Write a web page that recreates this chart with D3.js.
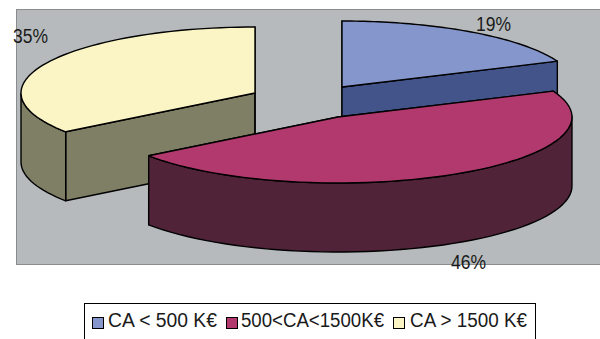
<!DOCTYPE html>
<html><head><meta charset="utf-8">
<script src="https://cdn.jsdelivr.net/npm/d3@7"></script>
<style>html,body{margin:0;padding:0;background:#fff;overflow:hidden}svg{display:block}text{font-family:"Liberation Sans",Arial,sans-serif;fill:#1a1a1a}</style>
</head><body><svg id="c" width="600" height="339"></svg>
<script>
const categories = ["CA < 500 K€", "500<CA<1500K€", "CA > 1500 K€"];
const shares = [18.6, 46.4, 35];
const labels = ["19%", "46%", "35%"];
const topColors = ["#8496cc", "#b2396e", "#fbf4c4"];
const wallColors = ["#42548a", "#512338", "#7f7f66"];
const apexes = [[342, 87], [338, 117], [255, 93]];
const labelPos = [[476, 31], [451, 269], [13, 43]];
const legendSwatchX = [92, 226, 393];
const legendTextX = [108, 241, 410];
const legendTextW = [109, 143, 117];

const svg = d3.select("#c");
const rx = 234, ry = 66, depth = 69;
const sx = d3.scaleLinear().domain([-1, 1]).range([-rx, rx]);
const sy = d3.scaleLinear().domain([-1, 1]).range([-ry, ry]);
const pie = d3.pie().sort(null).value(d => d)(shares);
const line = d3.line();
const rim = (a, c, dy = 0) => [c[0] + sx(Math.sin(a)), c[1] + sy(-Math.cos(a)) + dy];
const samples = (a0, a1) => d3.range(0, 61).map(i => a0 + (a1 - a0) * i / 60);

svg.append("rect").attr("x", 16.5).attr("y", 9.5).attr("width", 600).attr("height", 255)
  .attr("fill", "#b6babc").attr("stroke", "#8a8d8d");

const stroke = g => g.attr("stroke", "#000").attr("stroke-width", 1.4).attr("stroke-linejoin", "round");

[2, 0, 1].forEach(i => {
  const p = pie[i], c = apexes[i], a0 = p.startAngle, a1 = p.endAngle;
  const g = svg.append("g").call(stroke);
  const wall = pts => g.append("path").attr("d", line(pts) + "Z").attr("fill", wallColors[i]);
  wall([c, rim(a0, c), rim(a0, c, depth), [c[0], c[1] + depth]]);
  wall([c, rim(a1, c), rim(a1, c, depth), [c[0], c[1] + depth]]);
  const front = samples(a0, a1).filter(a => Math.cos(a) < 0.02);
  if (front.length > 1) {
    const lo = front.map(a => rim(a, c, depth));
    wall(front.map(a => rim(a, c)).concat(lo.reverse()));
  }
  const top = [c].concat(samples(a0, a1).map(a => rim(a, c)));
  g.append("path").attr("d", line(top) + "Z").attr("fill", topColors[i]);
});

labels.forEach((t, i) => {
  svg.append("text").attr("x", labelPos[i][0]).attr("y", labelPos[i][1])
    .attr("font-size", 20.5).attr("textLength", 35).attr("lengthAdjust", "spacingAndGlyphs").text(t);
});

svg.append("rect").attr("x", 84.5).attr("y", 303.5).attr("width", 451).attr("height", 50)
  .attr("fill", "#fff").attr("stroke", "#000").attr("stroke-width", 1);
categories.forEach((t, i) => {
  svg.append("rect").attr("x", legendSwatchX[i] + 0.5).attr("y", 317.5).attr("width", 11).attr("height", 11)
    .attr("fill", topColors[i]).attr("stroke", "#000").attr("stroke-width", 1);
  svg.append("text").attr("x", legendTextX[i]).attr("y", 327).attr("font-size", 19.5)
    .attr("textLength", legendTextW[i]).attr("lengthAdjust", "spacingAndGlyphs").text(t);
});
</script></body></html>
